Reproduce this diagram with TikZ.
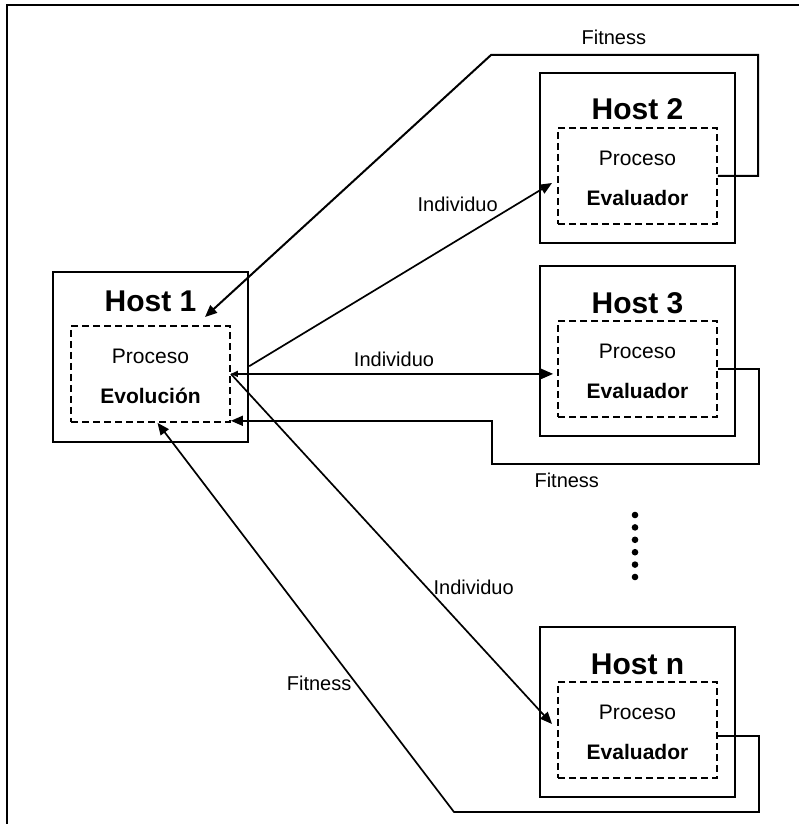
\documentclass[tikz,border=0pt]{standalone}
\usepackage{fontspec}
\setmainfont{Liberation Sans}
\usetikzlibrary{arrows.meta,positioning}

\begin{document}
\begin{tikzpicture}[x=1pt, y=-1pt]
  % Define host box, process box, text and connector styles
  \tikzstyle{hostbox} = [draw, line width=2.4pt, rectangle,
  minimum width=195pt, minimum height=170pt]
  \tikzstyle{procbox} = [draw, line width=1.8pt, dash pattern=on 7pt off 4pt,
  rectangle, minimum width=159pt, minimum height=96pt]
  \tikzstyle{hosttitle} = [font=\fontsize{30}{33}\selectfont\bfseries, inner sep=0pt]
  \tikzstyle{proctext} = [font=\fontsize{21}{24}\selectfont, inner sep=0pt]
  \tikzstyle{conn} = [line width=1.7pt, -{Triangle[length=12pt, width=10pt]}]
  \tikzstyle{lbl} = [font=\fontsize{20}{23}\selectfont, inner sep=2pt]

  \useasboundingbox (0,0) rectangle (798,824);
  \draw[line width=2.4pt] (7,830) -- (7,5) -- (805,5);

  % Host 1 runs the evolution
  \node[hostbox, anchor=north] (h1) at (150.5,271) {};
  \node[procbox, below=54pt of h1.north] (d1) {};
  \node[hosttitle, anchor=base] (t1) at ([yshift=-40pt]h1.north) {Host 1};
  \node[proctext, anchor=base] (p1) at ([yshift=-38pt]d1.north) {Proceso};
  \node[proctext, anchor=base] (e1) at ([yshift=-78pt]d1.north) {\bfseries Evolución};

  % Evaluator hosts
  \foreach \i/\top in {2/72, 3/265, n/626} {
    \node[hostbox, anchor=north] (h\i) at (637.5,\top) {};
    \node[procbox, below=55pt of h\i.north] (d\i) {};
    \node[hosttitle, anchor=base] (t\i) at ([yshift=-48pt]h\i.north) {Host \i};
    \node[proctext, anchor=base] (p\i) at ([yshift=-38pt]d\i.north) {Proceso};
    \node[proctext, anchor=base] (e\i) at ([yshift=-78pt]d\i.north) {\bfseries Evaluador};
  }

  % the hosts in between
  \foreach \k in {0,...,5}
    \fill (635,{515+12.4*\k}) circle (3.3pt);

  % Host 2
  \coordinate (i2) at (552,183);
  \coordinate (f2a) at (758,55);
  \coordinate (f2b) at (491,55);
  \coordinate (a1) at (205,317);
  \draw[conn] ([yshift=-9pt]h1.east) -- node[lbl, pos=0.83, anchor=south east] {Individuo} (i2);
  \draw[conn, line width=2pt] (d2.east) -| (f2a) -- node[lbl, pos=0.54, above=7pt] {Fitness} (f2b) -- (a1);

  % Host 3
  \coordinate (f3a) at (759,464);
  \coordinate (f3b) at (492,464);
  \draw[conn, {Triangle[length=7pt, width=6pt]}-{Triangle[length=12pt, width=10pt]}, shorten >=4pt]
    (d1.east) -- node[lbl, above=4pt] {Individuo} (d1.east -| d3.west);
  \draw[conn] (d3.east) -| (f3a) -- node[lbl, pos=0.72, below=6pt] {Fitness} (f3b)
    |- ([yshift=2pt]d1.south east);

  % Host n
  \coordinate (in) at (552,724);
  \coordinate (fna) at (759,812);
  \coordinate (fnb) at (454,812);
  \draw[conn] (d1.east) -- node[lbl, pos=0.61, right=4pt] {Individuo} (in);
  \draw[conn] ([yshift=-6pt]dn.east) -| (fna) -- (fnb)
    -- node[lbl, pos=0.33, left=2pt] {Fitness} ([xshift=7pt]d1.south);
\end{tikzpicture}
\end{document}
